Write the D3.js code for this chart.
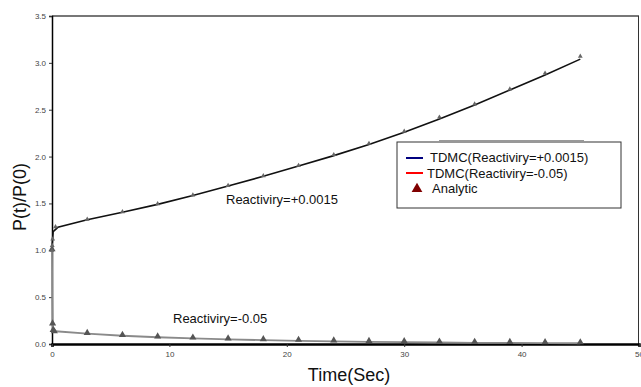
<!DOCTYPE html>
<html>
<head>
<meta charset="utf-8">
<script src="https://cdn.jsdelivr.net/npm/d3@7"></script>
<style>
  body { margin: 0; background: #fff; }
  svg { font-family: "Liberation Sans", Arial, sans-serif; }
</style>
</head>
<body>
<div id="chart"></div>
<script>
// data
var posTime  = [0, 0.01, 0.05, 0.1, 0.5, 3, 6, 9, 12, 15, 18, 21, 24, 27, 30, 33, 36, 39, 42, 45];
var posTdmc  = [1.0, 1.05, 1.12, 1.2, 1.245, 1.325, 1.405, 1.49, 1.585, 1.685, 1.79, 1.9, 2.01, 2.13, 2.26, 2.4, 2.55, 2.71, 2.87, 3.04];
var posAnaT  = [0, 0.02, 0.06, 0.3, 3, 6, 9, 12, 15, 18, 21, 24, 27, 30, 33, 36, 39, 42, 45];
var posAna   = [1.0, 1.05, 1.12, 1.25, 1.33, 1.41, 1.495, 1.59, 1.69, 1.795, 1.905, 2.02, 2.14, 2.27, 2.42, 2.56, 2.72, 2.89, 3.07];

var negTime  = [0, 0.02, 0.05, 0.1, 0.3, 3, 6, 9, 12, 15, 18, 21, 24, 27, 30, 33, 36, 39, 42, 45];
var negTdmc  = [1.0, 0.5, 0.21, 0.15, 0.136, 0.11, 0.088, 0.072, 0.059, 0.049, 0.041, 0.034, 0.028, 0.023, 0.019, 0.016, 0.013, 0.011, 0.009, 0.008];
var negAnaT  = [0, 0.05, 0.1, 0.2, 3, 6, 9, 12, 15, 18, 21, 24, 27, 30, 33, 36, 39, 42, 45];
var negAna   = [1.0, 0.21, 0.14, 0.125, 0.107, 0.086, 0.071, 0.058, 0.049, 0.041, 0.034, 0.028, 0.023, 0.019, 0.016, 0.013, 0.011, 0.009, 0.008];

var xTicks = [0, 10, 20, 30, 40, 50];
var yTicks = [0, 0.5, 1.0, 1.5, 2.0, 2.5, 3.0, 3.5];
var legendLabels = ["TDMC(Reactiviry=+0.0015)", "TDMC(Reactiviry=-0.05)", "Analytic"];

var W = 641, H = 387;
var pad = {l: 52, r: 2, t: 16, b: 43};

var svg = d3.select('#chart').append('svg')
  .attr('width', W).attr('height', H);

var x = d3.scaleLinear().domain([0, 50]).range([pad.l, W - pad.r]);
var y = d3.scaleLinear().domain([0, 3.5]).range([H - pad.b, pad.t]);

// frame: top and right
svg.append('line')
  .attr('x1', x(0)).attr('x2', x(50)).attr('y1', y(3.5)).attr('y2', y(3.5))
  .attr('stroke', '#777').attr('stroke-width', 2);
svg.append('line')
  .attr('x1', x(50) - 0.5).attr('x2', x(50) - 0.5).attr('y1', y(3.5)).attr('y2', y(0))
  .attr('stroke', '#333').attr('stroke-width', 1);

// axes
var xAxis = d3.axisBottom(x).tickValues(xTicks).tickSize(3).tickFormat(d3.format('d'));
var yAxis = d3.axisLeft(y).tickValues(yTicks).tickSize(3).tickFormat(d3.format('.1f'));

svg.append('g').attr('class', 'axis y')
  .attr('transform', 'translate(' + pad.l + ',0)')
  .call(yAxis)
  .call(function(g) {
    g.select('.domain').attr('stroke', '#000').attr('stroke-width', 1.5);
    g.selectAll('.tick line').attr('stroke', '#333');
    g.selectAll('.tick text').attr('fill', '#444').style('font-size', '8px').attr('x', -6);
  });

svg.append('g').attr('class', 'axis x')
  .attr('transform', 'translate(0,' + y(0) + ')')
  .call(xAxis)
  .call(function(g) {
    g.select('.domain').attr('stroke', '#000').attr('stroke-width', 2.5);
    g.selectAll('.tick line').attr('stroke', '#333');
    g.selectAll('.tick text').attr('fill', '#444').style('font-size', '8px').attr('y', 7);
  });

// axis titles
svg.append('text')
  .attr('transform', 'translate(349,' + (H - 6) + ')')
  .attr('text-anchor', 'middle')
  .style('font-size', '18px').attr('fill', '#111')
  .text('Time(Sec)');
svg.append('text')
  .attr('transform', 'translate(26,197) rotate(-90)')
  .attr('text-anchor', 'middle')
  .style('font-size', '18px').attr('fill', '#111')
  .text('P(t)/P(0)');

// lines
var line = d3.line().x(function(d) { return x(d[0]); }).y(function(d) { return y(d[1]); });
var tri = d3.symbol().type(d3.symbolTriangle);

function series(ts, vs) { return ts.map(function(t, i) { return [t, vs[i]]; }); }

svg.append('path')
  .datum(series(negTime, negTdmc))
  .attr('d', line).attr('fill', 'none')
  .attr('stroke', '#8a8a8a').attr('stroke-width', 1.8);
svg.append('path')
  .datum(series(posTime, posTdmc))
  .attr('d', line).attr('fill', 'none')
  .attr('stroke', '#111').attr('stroke-width', 1.6);

svg.append('g').selectAll('path')
  .data(series(negAnaT, negAna)).enter()
  .append('path')
    .attr('transform', function(d) { return 'translate(' + x(d[0]) + ',' + (y(d[1]) - 1) + ')'; })
    .attr('d', tri.size(22)())
    .attr('fill', '#555');
svg.append('g').selectAll('path')
  .data(series(posAnaT, posAna)).enter()
  .append('path')
    .attr('transform', function(d) { return 'translate(' + x(d[0]) + ',' + y(d[1]) + ')'; })
    .attr('d', tri.size(10)())
    .attr('fill', '#666');

// annotations
svg.append('text').attr('x', 226).attr('y', 204)
  .style('font-size', '13px').attr('fill', '#111')
  .text('Reactiviry=+0.0015');
svg.append('text').attr('x', 173).attr('y', 323)
  .style('font-size', '13px').attr('fill', '#111')
  .text('Reactiviry=-0.05');

// legend
var lg = svg.append('g').attr('transform', 'translate(397,142)');
svg.append('line')
  .attr('x1', 439).attr('x2', 584).attr('y1', 140.5).attr('y2', 140.5)
  .attr('stroke', '#999').attr('stroke-width', 1);
lg.append('rect')
  .attr('x', 0).attr('y', 0).attr('width', 224).attr('height', 66)
  .attr('fill', '#fff').attr('stroke', '#333').attr('stroke-width', 1);

var legendColors = ['#00007f', '#ff0000'];
lg.selectAll('line.key')
  .data(legendColors).enter()
  .append('line').attr('class', 'key')
    .attr('x1', 9).attr('x2', 26)
    .attr('y1', function(d, i) { return 16 + i * 15; })
    .attr('y2', function(d, i) { return 16 + i * 15; })
    .attr('stroke', function(d) { return d; }).attr('stroke-width', 2);
lg.append('path')
  .attr('transform', 'translate(20,47)')
  .attr('d', tri.size(50)())
  .attr('fill', '#800000');
lg.selectAll('text')
  .data(legendLabels).enter()
  .append('text')
    .attr('x', function(d, i) { return [33, 30, 35][i]; })
    .attr('y', function(d, i) { return 20 + i * 15.5; })
    .style('font-size', '13px').attr('fill', '#111')
    .text(function(d) { return d; });
</script>
</body>
</html>
